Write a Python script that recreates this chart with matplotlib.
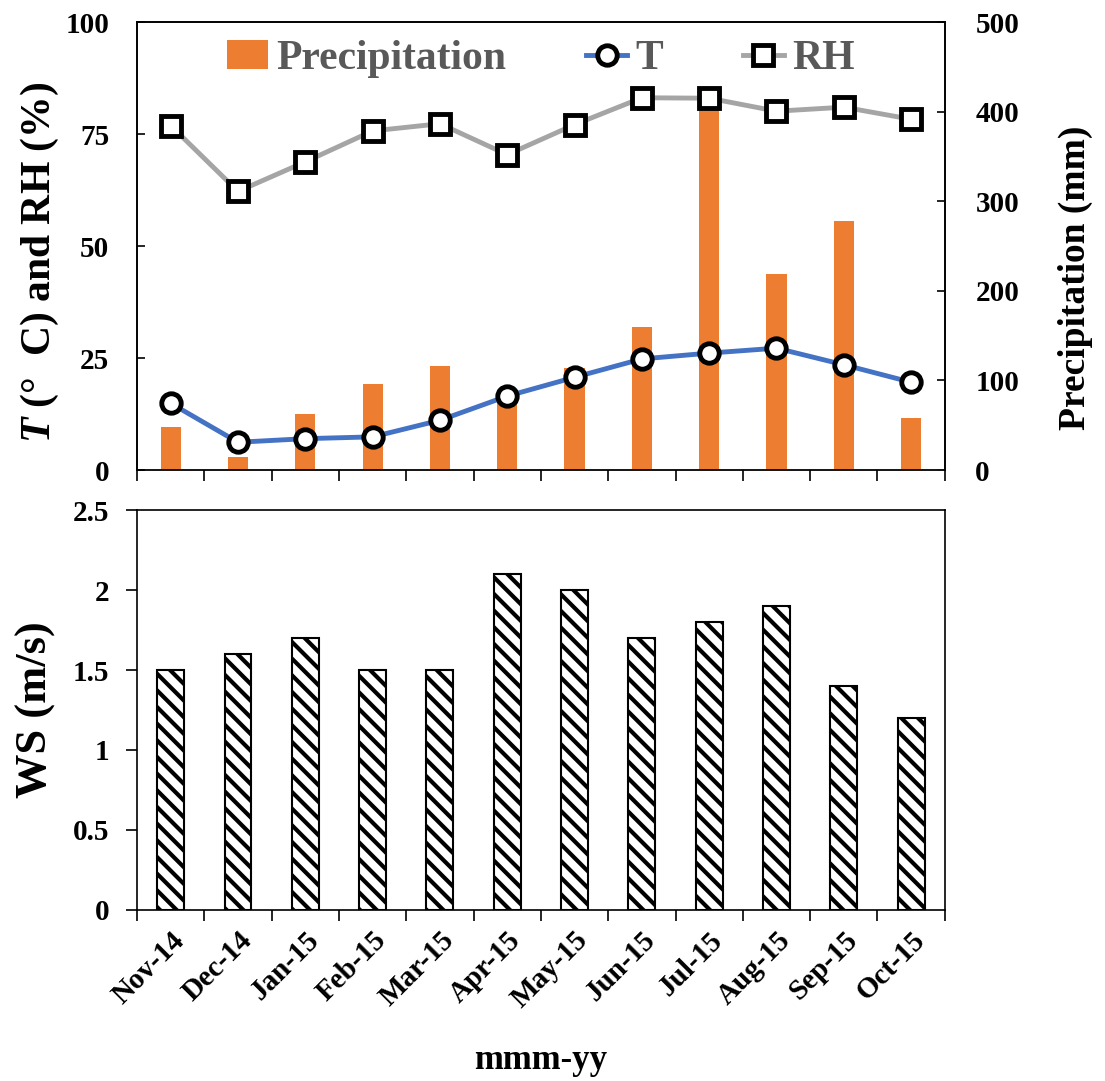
import numpy as np
import matplotlib.pyplot as plt

plt.rcParams['font.family'] = ['Liberation Serif', 'DejaVu Serif']
plt.rcParams['font.weight'] = 'bold'
plt.rcParams['mathtext.fontset'] = 'custom'
plt.rcParams['mathtext.rm'] = 'Liberation Serif:bold'
plt.rcParams['mathtext.it'] = 'Liberation Serif:bold:italic'
plt.rcParams['hatch.linewidth'] = 3.0

months = ['Nov-14', 'Dec-14', 'Jan-15', 'Feb-15', 'Mar-15', 'Apr-15',
          'May-15', 'Jun-15', 'Jul-15', 'Aug-15', 'Sep-15', 'Oct-15']
precip = [48, 14, 62, 96, 116, 85, 114, 160, 413, 219, 278, 58]
temp = [14.9, 6.2, 7.0, 7.4, 11.1, 16.5, 20.7, 24.8, 26.1, 27.2, 23.5, 19.6]
rh = [76.9, 62.2, 68.8, 75.7, 77.3, 70.4, 77.1, 83.1, 83.0, 80.1, 81.0, 78.3]
ws = [1.5, 1.6, 1.7, 1.5, 1.5, 2.1, 2.0, 1.7, 1.8, 1.9, 1.4, 1.2]

x = np.arange(len(months))
fs_tick = 21

fig = plt.figure(figsize=(11.05, 10.81), dpi=100)
ax1 = fig.add_axes([0.124, 0.5652, 0.731, 0.4144])
ax2 = ax1.twinx()
ax3 = fig.add_axes([0.124, 0.1582, 0.731, 0.370])

# top panel: precipitation bars on right axis, T and RH lines on left axis
ax1.set_zorder(ax2.get_zorder() + 1)
ax1.patch.set_visible(False)
bars = ax2.bar(x, precip, width=0.3, color='#ED7D31', label='Precipitation')
lt, = ax1.plot(x, temp, color='#4472C4', lw=3.5, marker='o', ms=14, mfc='white',
               mec='black', mew=3.5, label='T')
lr, = ax1.plot(x, rh, color='#A5A5A5', lw=3.5, marker='s', ms=14, mfc='white',
               mec='black', mew=3.5, label='RH')

ax1.set_xlim(-0.5, len(months) - 0.5)
ax1.set_ylim(0, 100)
ax1.set_yticks([0, 25, 50, 75, 100])
ax2.set_ylim(0, 500)
ax2.set_yticks([0, 100, 200, 300, 400, 500])
ax1.set_xticks(np.arange(len(months) + 1) - 0.5)
ax1.set_xticklabels([])
ax1.tick_params(axis='x', direction='out', length=8, width=1.2)
ax1.tick_params(axis='y', direction='in', length=6, labelsize=fs_tick, width=1.2, pad=20)
ax2.tick_params(axis='y', direction='in', length=6, labelsize=fs_tick, width=1.2, pad=22)
ax1.set_ylabel(r'$\mathit{T}$ (°  C) and RH (%)', fontsize=30, fontweight='bold',
               labelpad=3)
ax1.yaxis.label.set_y(0.464)
ax2.set_ylabel('Precipitation (mm)', fontsize=27, fontweight='bold', labelpad=28)
ax2.yaxis.label.set_y(0.43)
for ax in (ax1, ax2):
    for s in ax.spines.values():
        s.set_linewidth(1.2)
ax2.spines['bottom'].set_color('#888888')

leg = ax1.legend([bars, lt, lr], ['Precipitation', 'T', 'RH'], loc='upper center',
                 ncol=3, frameon=False, fontsize=30, handlelength=1.0,
                 handletextpad=0.2, columnspacing=1.9, bbox_to_anchor=(0.5, 1.043))
for t in leg.get_texts():
    t.set_color('#595959')

# bottom panel: wind speed
ax3.bar(x, ws, width=0.4, color='white', edgecolor='black', hatch='\\\\', lw=1.5)
ax3.set_xlim(-0.5, len(months) - 0.5)
ax3.set_ylim(0, 2.5)
ax3.set_yticks([0, 0.5, 1, 1.5, 2, 2.5])
ax3.set_yticklabels(['0', '0.5', '1', '1.5', '2', '2.5'])
ax3.set_xticks(np.arange(len(months) + 1) - 0.5, minor=False)
ax3.set_xticklabels([])
ax3.set_xticks(x, minor=True)
ax3.set_xticklabels(months, minor=True, rotation=45, ha='right',
                    rotation_mode='anchor', fontsize=fs_tick, fontweight='bold')
ax3.tick_params(axis='x', which='minor', length=0, pad=12)
ax3.tick_params(axis='x', which='major', direction='out', length=8, width=1.2)
ax3.tick_params(axis='y', direction='out', length=8, labelsize=fs_tick, width=1.2, pad=12)
ax3.set_ylabel('WS (m/s)', fontsize=32, fontweight='bold', labelpad=12)
ax3.set_xlabel('mmm-yy', fontsize=25, fontweight='bold', labelpad=22)
for s in ax3.spines.values():
    s.set_linewidth(1.2)

fig.savefig('out.png', dpi=100)
